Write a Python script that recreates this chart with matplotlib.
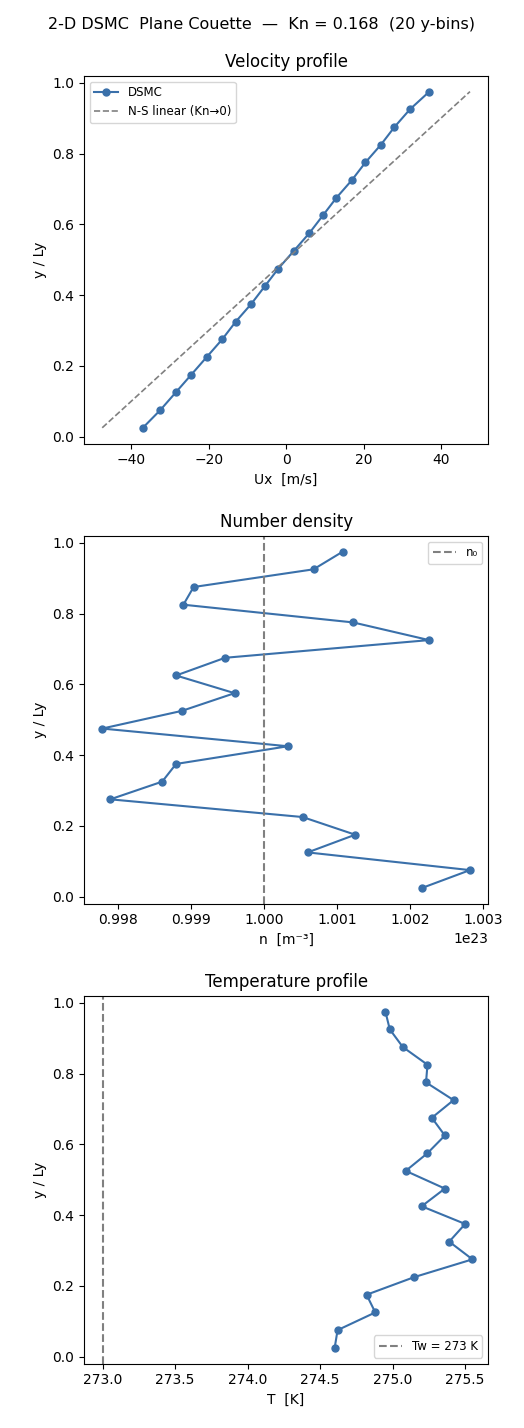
import numpy as np
import matplotlib
matplotlib.use("Agg")
import matplotlib.pyplot as plt

y = np.arange(0.025, 1.0, 0.05)
ux = [-37, -32.5, -28.5, -24.5, -20.5, -16.5, -13, -9, -5.5, -2,
      2, 6, 9.5, 13, 17, 20.5, 24.5, 28, 32, 37]
n = [1.00217, 1.00282, 1.0006, 1.00125, 1.00053, 0.9979, 0.99861, 0.9988, 1.00033, 0.99779,
     0.99888, 0.9996, 0.9988, 0.99947, 1.00226, 1.00122, 0.9989, 0.99904, 1.00068, 1.00108]
T = [274.6, 274.62, 274.88, 274.82, 275.15, 275.55, 275.39, 275.5, 275.2, 275.36,
     275.09, 275.24, 275.36, 275.27, 275.42, 275.23, 275.24, 275.07, 274.98, 274.95]
u_wall = 50.0
n0 = 1.0e23
Tw = 273.0
c = "#3a70aa"

fig, axs = plt.subplots(3, 1, figsize=(5.24, 14.28), dpi=100)
fig.suptitle("2-D DSMC  Plane Couette  —  Kn = 0.168  (20 y-bins)", fontsize=11.5, y=0.988)

ax = axs[0]
ax.plot(ux, y, "o-", color=c, ms=5, label="DSMC")
ax.plot(2*u_wall*(y-0.5), y, "--", color="gray", lw=1.2, label="N-S linear (Kn→0)")
ax.set_title("Velocity profile")
ax.set_xlabel("Ux  [m/s]"); ax.set_ylabel("y / Ly")
ax.legend(loc="upper left", fontsize=8.5)

ax = axs[1]
ax.plot(np.array(n)*1e23, y, "o-", color=c, ms=5)
ax.axvline(n0, ls="--", color="gray", lw=1.5, label="n₀")
ax.set_title("Number density")
ax.set_xlabel("n  [m⁻³]"); ax.set_ylabel("y / Ly")
ax.set_xticks(np.array([0.998, 0.999, 1.0, 1.001, 1.002, 1.003])*1e23)
ax.legend(loc="upper right", fontsize=8.5)

ax = axs[2]
ax.plot(T, y, "o-", color=c, ms=5)
ax.axvline(Tw, ls="--", color="gray", lw=1.5, label="Tw = 273 K")
ax.set_title("Temperature profile")
ax.set_xlabel("T  [K]"); ax.set_ylabel("y / Ly")
ax.set_xlim(272.87, 275.66)
ax.set_xticks([273.0, 273.5, 274.0, 274.5, 275.0, 275.5])
ax.legend(loc="lower right", fontsize=8.5)

for a in axs:
    a.set_ylim(-0.02, 1.02)
    a.set_yticks([0, 0.2, 0.4, 0.6, 0.8, 1.0])

fig.subplots_adjust(left=0.16, right=0.932, top=0.947, bottom=0.045, hspace=0.25)
fig.savefig("out.png")
